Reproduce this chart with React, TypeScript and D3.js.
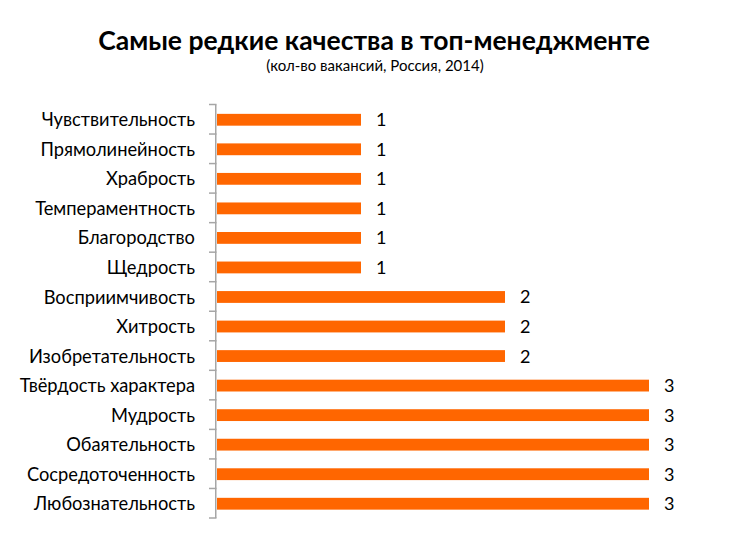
import React from "react";
import * as d3 from "d3";

const categories = [
  "Чувствительность",
  "Прямолинейность",
  "Храбрость",
  "Темпераментность",
  "Благородство",
  "Щедрость",
  "Восприимчивость",
  "Хитрость",
  "Изобретательность",
  "Твёрдость характера",
  "Мудрость",
  "Обаятельность",
  "Сосредоточенность",
  "Любознательность",
];
const values = [1, 1, 1, 1, 1, 1, 2, 2, 2, 3, 3, 3, 3, 3];
const title = "Самые редкие качества в топ-менеджменте";
const subtitle = "(кол-во вакансий, Россия, 2014)";

const W = 749;
const H = 546;
const FONT = "Lato, 'Open Sans', sans-serif";

export default function App() {
  const x0 = 217;
  const x = d3.scaleLinear().domain([0, 3]).range([x0, 649]);
  const top = 104.5;
  const bottom = 518;
  const y = d3.scaleBand<string>().domain(categories).range([top, bottom]).paddingInner(0.6).paddingOuter(0.3);
  const step = y.step();
  const boundaries = d3.range(categories.length + 1).map((i) => top + i * step);
  const axisColor = "#A6A6A6";
  return (
    <svg width={W} height={H} style={{ position: "absolute", left: 0, top: 0 }} fontFamily={FONT}>
      <rect width={W} height={H} fill="#fff" />
      <text x={374} y={49.5} textAnchor="middle" fontSize={26.5} fontWeight="bold" fill="#000">
        {title}
      </text>
      <text x={375} y={70.5} textAnchor="middle" fontSize={15} fill="#000">
        {subtitle}
      </text>
      {categories.map((c, i) => (
        <g key={c}>
          <rect x={x(0)} y={y(c)! + 0.5} width={x(values[i]) - x(0)} height={y.bandwidth()} fill="#FF6600" />
          <text x={x(values[i]) + 15} y={y(c)! + y.bandwidth() / 2 + 0.5} dy="0.36em" fontSize={18} fill="#000">
            {values[i]}
          </text>
          <text x={195} y={y(c)! + y.bandwidth() / 2 + 0.5} dy="0.36em" textAnchor="end" fontSize={18.3} fill="#000">
            {c}
          </text>
        </g>
      ))}
      <line x1={x0 - 1.25} x2={x0 - 1.25} y1={top} y2={bottom} stroke={axisColor} strokeWidth={1.5} />
      {boundaries.map((b, i) => (
        <line key={i} x1={x0 - 8} x2={x0 - 0.5} y1={b} y2={b} stroke={axisColor} strokeWidth={1.5} />
      ))}
    </svg>
  );
}
